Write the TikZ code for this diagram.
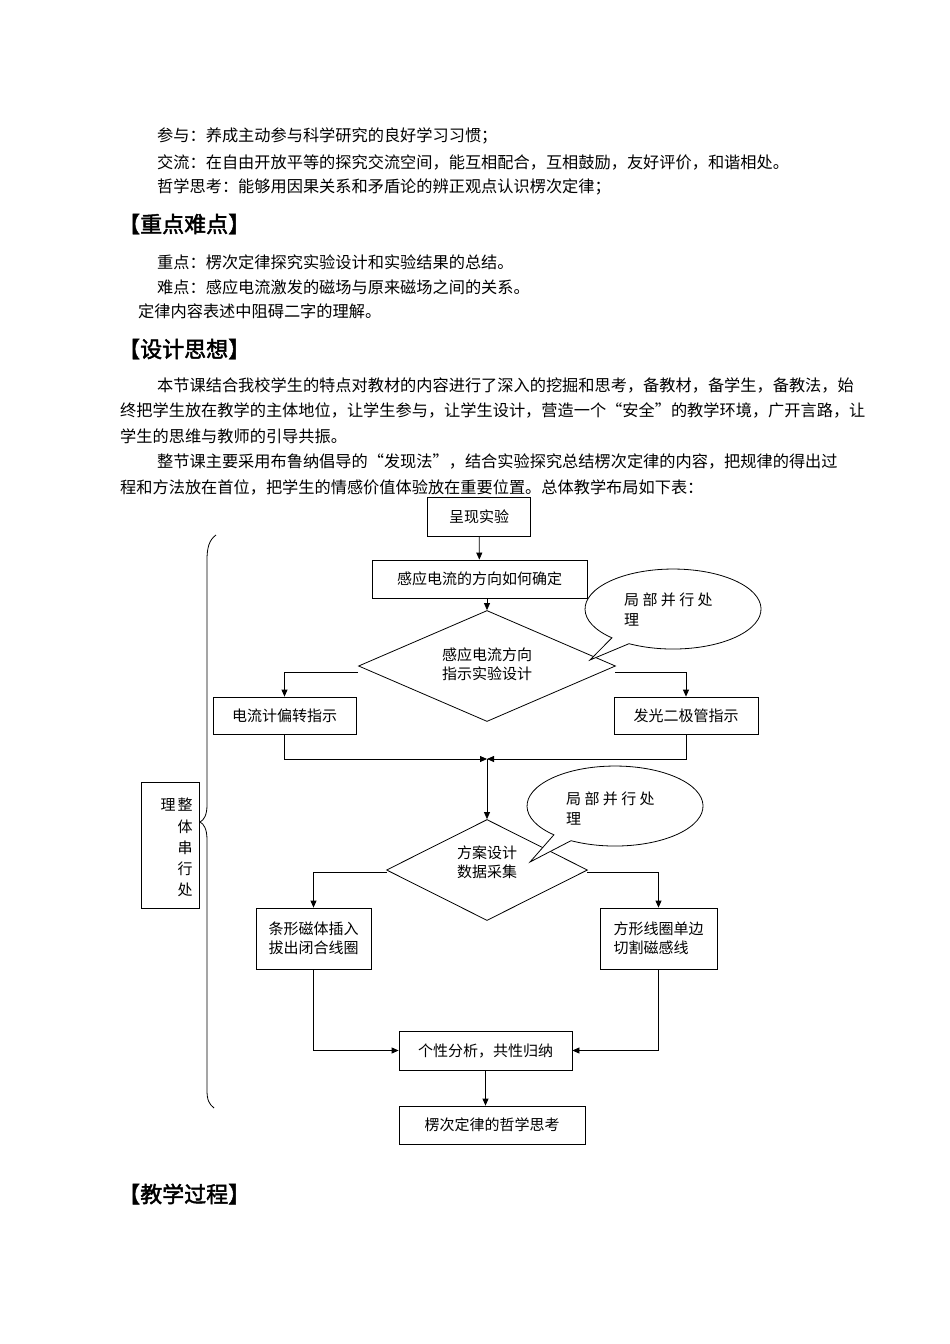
\documentclass[tikz,border=0pt]{standalone}
\usepackage{fontspec}
\setmainfont{Noto Sans CJK SC}
\newfontfamily\hd[FakeBold=2]{Noto Sans CJK SC}
\usetikzlibrary{shapes.geometric,arrows.meta}
\begin{document}
\begin{tikzpicture}[x=1pt,y=-1pt,
  txt/.style={anchor=west,inner sep=0pt,font=\fontsize{16.2}{18}\selectfont},
  head/.style={anchor=west,inner sep=0pt,font=\hd\fontsize{22}{26}\selectfont},
  fbox/.style={draw,thick,inner sep=0pt,font=\fontsize{15}{19}\selectfont},
  ftx/.style={inner sep=0pt,font=\fontsize{15}{19}\selectfont,align=left},
  arr/.style={thick,-{Triangle[length=7pt,width=6pt]}},
  ln/.style={thick}]
\useasboundingbox (0,0) rectangle (950,1344);
\fill[white] (0,0) rectangle (950,1344);
% text
\node[txt] (t1) at (157,136) {参与：养成主动参与科学研究的良好学习习惯；};
\node[txt] (t2) at (157,162) {交流：在自由开放平等的探究交流空间，能互相配合，互相鼓励，友好评价，和谐相处。};
\node[txt] (t3) at (157,187) {哲学思考：能够用因果关系和矛盾论的辨正观点认识楞次定律；};
\node[head] (h1) at (118,224) {【重点难点】};
\node[txt] (t4) at (157,262) {重点：楞次定律探究实验设计和实验结果的总结。};
\node[txt] (t5) at (157,287) {难点：感应电流激发的磁场与原来磁场之间的关系。};
\node[txt] (t6) at (138,311) {定律内容表述中阻碍二字的理解。};
\node[head] (h2) at (118,349) {【设计思想】};
\node[txt] (p1) at (157,385) {本节课结合我校学生的特点对教材的内容进行了深入的挖掘和思考，备教材，备学生，备教法，始};
\node[txt] (p2) at (120,410) {终把学生放在教学的主体地位，让学生参与，让学生设计，营造一个“安全”的教学环境，广开言路，让};
\node[txt] (p3) at (120,436) {学生的思维与教师的引导共振。};
\node[txt] (p4) at (157,461) {整节课主要采用布鲁纳倡导的“发现法”，结合实验探究总结楞次定律的内容，把规律的得出过};
\node[txt] (p5) at (120,487) {程和方法放在首位，把学生的情感价值体验放在重要位置。总体教学布局如下表：};
\node[head] (h3) at (118,1194) {【教学过程】};
% flowchart
\node[fbox,minimum width=103,minimum height=39] (a) at (479,516.5) {呈现实验};
\node[fbox,minimum width=215,minimum height=38] (b) at (479.5,579) {感应电流的方向如何确定};
\node[draw,thick,diamond,aspect=2.3,minimum width=257,minimum height=111,inner sep=0pt] (d1) at (487,666) {};
\node[ftx,align=center] (d1t) at (487,664) {感应电流方向\\指示实验设计};
\node[fbox,minimum width=143,minimum height=37] (c1) at (284.5,715.5) {电流计偏转指示};
\node[fbox,minimum width=144,minimum height=37] (c2) at (686,715.5) {发光二极管指示};
\coordinate (m) at (487,759);
\node[draw,thick,diamond,aspect=2,minimum width=201,minimum height=101,inner sep=0pt] (d2) at (487,870) {};
\node[ftx,align=center] (d2t) at (487,862) {方案设计\\数据采集};
\node[fbox,minimum width=115,minimum height=61,align=left] (e1) at (313.5,938.5) {条形磁体插入\\拔出闭合线圈};
\node[fbox,minimum width=117,minimum height=61,align=left] (e2) at (658.5,938.5) {方形线圈单边\\切割磁感线};
\node[fbox,minimum width=173,minimum height=39] (f) at (485.5,1050.5) {个性分析，共性归纳};
\node[fbox,minimum width=186,minimum height=38] (g) at (492,1125) {楞次定律的哲学思考};
\draw[arr] (a) -- (b);
\draw[arr] (b.south -| d1.north) -- (d1.north);
\draw[arr] (358,672) -| (c1.north);
\draw[arr] (615,672) -| (c2.north);
\draw[arr] (c1.south) |- (m);
\draw[arr] (c2.south) |- (m);
\draw[arr] (m) -- (d2.north);
\draw[arr] (387,872) -| (e1.north);
\draw[arr] (587,872) -| (e2.north);
\draw[arr] (e1.south) |- (f.west);
\draw[arr] (e2.south) |- (f.east);
\draw[arr] (f.south) -- (f.south |- g.north);
% callouts
\draw[thick,fill=white] (611.9,637.8) arc[start angle=134,end angle=480,x radius=88,y radius=40] -- (590,660) -- cycle;
\node[ftx] (k1) at (624,600) [anchor=west] {局 部 并 行 处};
\node[ftx] (k1b) at (624,620) [anchor=west] {理};
\draw[thick,fill=white] (553.9,834.8) arc[start angle=134,end angle=480,x radius=88,y radius=40] -- (530,862) -- cycle;
\node[ftx] (k2) at (566,799) [anchor=west] {局 部 并 行 处};
\node[ftx] (k2b) at (566,819) [anchor=west] {理};
% brace
\draw[thick] (216,535) .. controls (209,540) and (207,548) .. (207,560) -- (207,805) .. controls (207,815) and (204,820) .. (200,822) .. controls (204,824) and (207,829) .. (207,840) -- (207,1090) .. controls (207,1100) and (209,1104) .. (214,1108);
\node[draw,thick,minimum width=58,minimum height=126] (s) at (170,845) {};
\node[ftx] (s1) at (168,805) {理};
\node[ftx] (s2) at (185,805) {整};
\node[ftx] (s3) at (185,827) {体};
\node[ftx] (s4) at (185,848) {串};
\node[ftx] (s5) at (185,869) {行};
\node[ftx] (s6) at (185,890) {处};
\end{tikzpicture}
\end{document}
